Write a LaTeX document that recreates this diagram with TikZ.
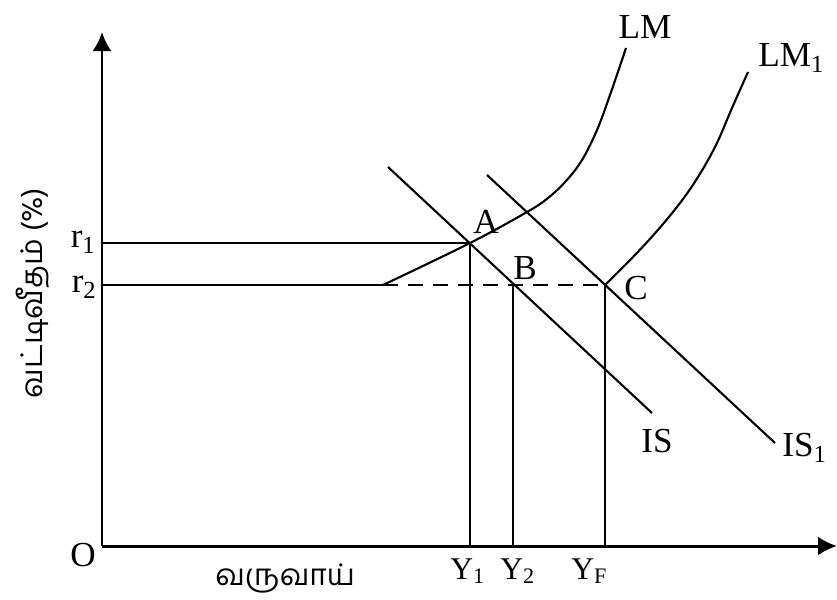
\documentclass[tikz,border=0pt]{standalone}
\usepackage{fontspec}
\setmainfont{Liberation Serif}
\newfontfamily\tamilfont[Script=Tamil]{Hind Madurai}
\usetikzlibrary{arrows.meta,positioning}

\begin{document}
\begin{tikzpicture}[
    x=0.02cm, y=-0.02cm,
    axis/.style={line width=1.7pt, -{Latex[length=0.38cm, width=0.38cm]}},
    curve/.style={line width=1.2pt},
    guide/.style={line width=1.2pt},
    dashguide/.style={guide, dash pattern=on 0.3cm off 0.2cm},
    lbl/.style={inner sep=0pt, font=\fontsize{20}{22}\selectfont},
    ylbl/.style={inner sep=0pt, font=\fontsize{18}{20}\selectfont},
    tlbl/.style={inner sep=0pt, font=\tamilfont\fontsize{17}{19}\selectfont}
]
    \useasboundingbox (0,0) rectangle (837,599);

    % Axes
    \coordinate (O) at (102,546);
    \coordinate (ytop) at (102,32);
    \coordinate (xend) at (837,546);
    \draw[axis] (O) -- (ytop);
    \draw[axis] (O) -- (xend);

    % Equilibrium points
    \coordinate (A) at (470,243);
    \coordinate (B) at (513,285);
    \coordinate (C) at (605,285);
    \coordinate (lmstart) at (383,285);

    % Interest rate and income guides
    \draw[guide] (O |- A) -- (A);
    \draw[guide] (O |- B) -- (lmstart);
    \draw[dashguide] (lmstart) -- (C);
    \draw[guide] (A) -- (A |- O);
    \draw[guide] (B) -- (B |- O);
    \draw[guide] (C) -- (C |- O);

    % IS curves
    \coordinate (is0) at (388,167);
    \coordinate (is1) at (652,413);
    \coordinate (isb0) at (487,175);
    \coordinate (isb1) at (775,443);
    \draw[curve] (is0) -- (is1);
    \draw[curve] (isb0) -- (isb1);

    % LM curves
    \draw[curve] plot[smooth, tension=0.6] coordinates {(lmstart) (A) (527,212) (548,198) (566,181) (582,160) (597,130) (610,95) (626,48)};
    \draw[curve] plot[smooth, tension=0.6] coordinates {(C) (633,257) (657,231) (680,203) (698,177) (716,145) (732,108) (748,72)};

    % Labels
    \node[lbl] (lm) at (645,27) {LM};
    \node[lbl, anchor=west] (lmone) at (758,58) {LM\textsubscript{1}};
    \node[lbl] (lblA) at (486,222) {A};
    \node[lbl] (lblB) at (525,268) {B};
    \node[lbl] (lblC) at (636,288) {C};
    \node[lbl] (is) at (657,441) {IS};
    \node[lbl, anchor=west] (isone) at (782,448) {IS\textsubscript{1}};
    \node[lbl, anchor=east] (rone) at (96,242) {r\textsubscript{1}};
    \node[lbl, anchor=east] (rtwo) at (97,287) {r\textsubscript{2}};
    \node[lbl] (origin) at (83,555) {O};
    \node[ylbl, anchor=west] (yone) at (450,571) {Y\textsubscript{1}};
    \node[ylbl, anchor=west] (ytwo) at (500,571) {Y\textsubscript{2}};
    \node[ylbl, anchor=west] (yf) at (571,571) {Y\textsubscript{F}};
    \node[tlbl, anchor=west] (income) at (215,578) {வருவாய்};
    \node[tlbl, rotate=90] (rate) at (33,293) {வட்டிவீதம் (\%)};
\end{tikzpicture}
\end{document}
